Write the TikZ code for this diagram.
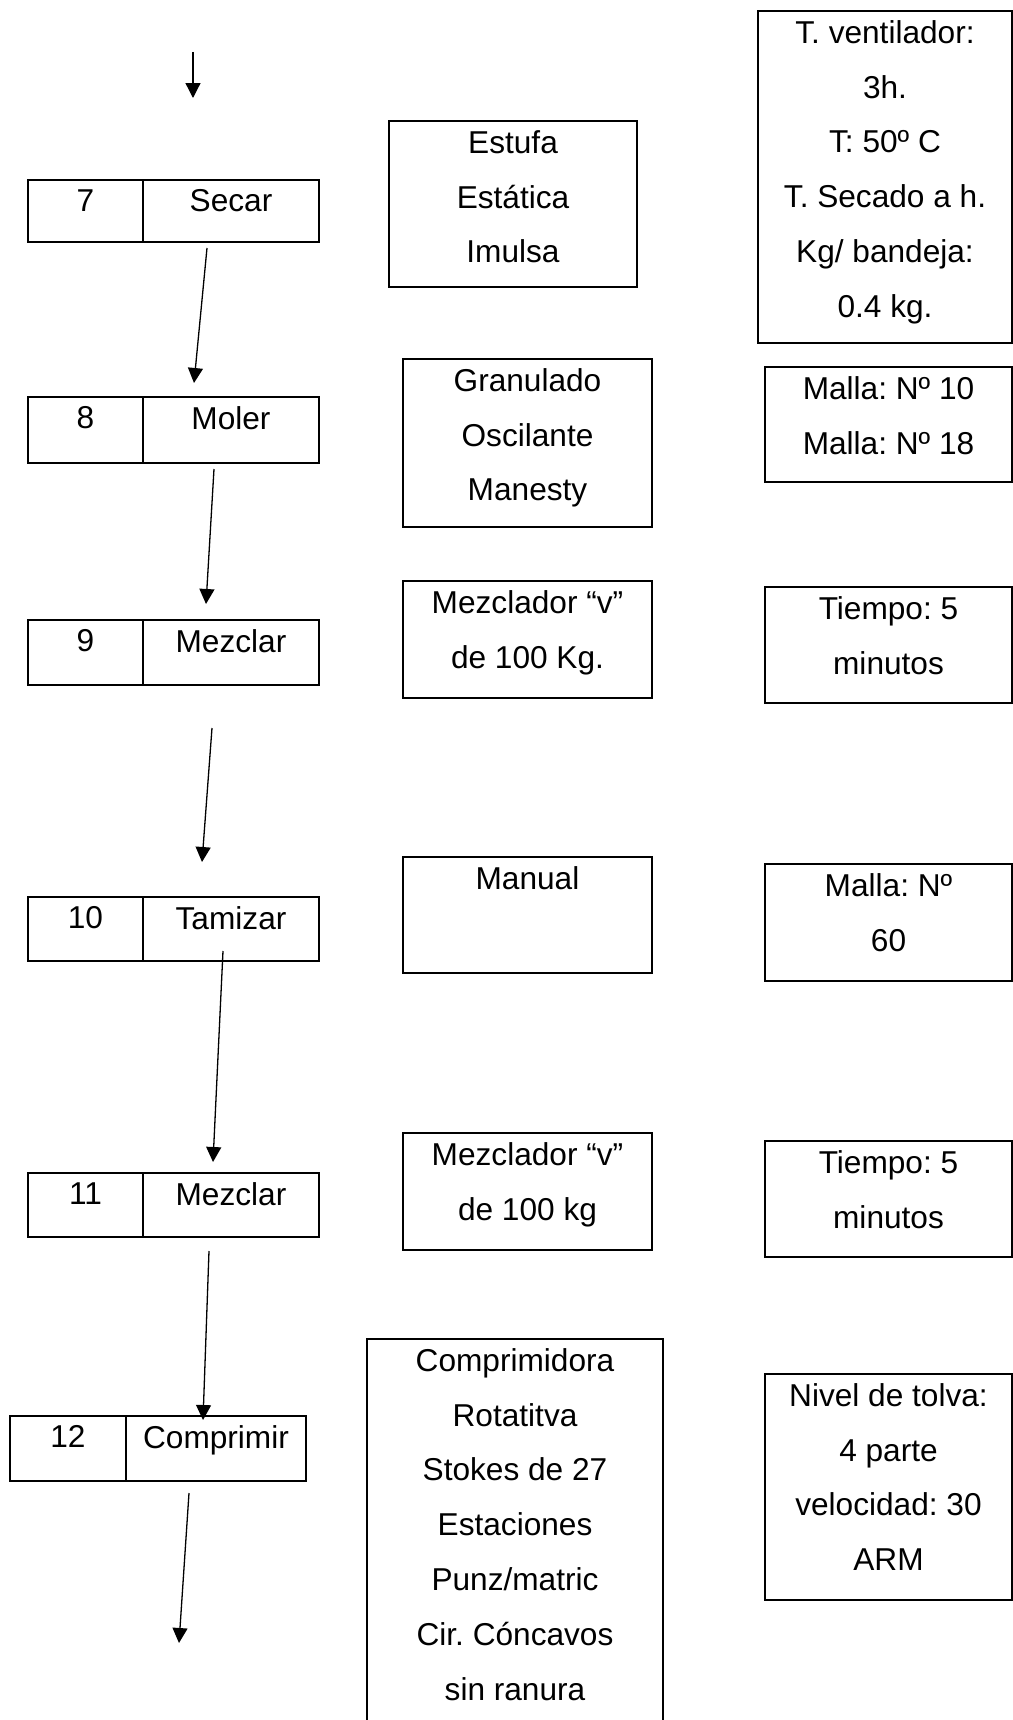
\documentclass[tikz,border=0pt]{standalone}
\usepackage{fontspec}
\setmainfont{Liberation Sans}
\usetikzlibrary{positioning,arrows.meta,fit,calc}
\frenchspacing

\begin{document}
\begin{tikzpicture}[x=0.02cm, y=-0.02cm,
    >={Triangle[length=0.3cm, width=0.3cm]},
    box/.style={draw, line width=0.04cm, inner sep=0pt},
    txt/.style={font=\fontsize{18}{31.2}\selectfont, align=center, inner sep=0pt},
    flow/.style={->, line width=0.026cm}]
  \useasboundingbox (0,0) rectangle (1013,1720);

  % process steps: number cell | operation cell
  \foreach \n/\name/\xa/\xb/\xc/\ya/\yb in {7/Secar/28/143/319/180/242,
      8/Moler/28/143/319/397/463, 9/Mezclar/28/143/319/620/685,
      10/Tamizar/28/143/319/897/961, 11/Mezclar/28/143/319/1173/1237,
      12/Comprimir/10/126/306/1416/1481} {
    \node[box, fit={(\xa,\ya) (\xb,\yb)}] (num\n) {};
    \node[box, fit={(\xb,\ya) (\xc,\yb)}] (act\n) {};
    \node[txt, below=0.2cm of num\n.north] {\n};
    \node[txt, below=0.2cm of act\n.north] {\name};
  }

  % equipment
  \node[box, fit={(389,121) (637,287)}] (estufa) {};
  \node[txt, below=0.2cm of estufa.north] {Estufa\\Estática\\Imulsa};
  \node[box, fit={(403,359) (652,527)}] (granulado) {};
  \node[txt, below=0.2cm of granulado.north] {Granulado\\Oscilante\\Manesty};
  \node[box, fit={(403,581) (652,698)}] (mezcladorA) {};
  \node[txt, below=0.2cm of mezcladorA.north] {Mezclador “v”\\de 100 Kg.};
  \node[box, fit={(403,857) (652,973)}] (manual) {};
  \node[txt, below=0.2cm of manual.north] {Manual};
  \node[box, fit={(403,1133) (652,1250)}] (mezcladorB) {};
  \node[txt, below=0.2cm of mezcladorB.north] {Mezclador “v”\\de 100 kg};
  \node[box, fit={(367,1339) (663,1740)}] (comprimidora) {};
  \node[txt, below=0.2cm of comprimidora.north] {Comprimidora\\Rotatitva\\Stokes de 27\\Estaciones\\Punz/matric\\Cir. Cóncavos\\sin ranura};

  % parameters
  \node[box, fit={(758,11) (1012,343)}] (secado) {};
  \node[txt, below=0.2cm of secado.north] {T. ventilador:\\3h.\\T: 50º C\\T. Secado a h.\\Kg/ bandeja:\\0.4 kg.};
  \node[box, fit={(765,367) (1012,482)}] (malla) {};
  \node[txt, below=0.2cm of malla.north] {Malla: Nº 10\\Malla: Nº 18};
  \node[box, fit={(765,587) (1012,703)}] (tiempoA) {};
  \node[txt, below=0.2cm of tiempoA.north] {Tiempo: 5\\minutos};
  \node[box, fit={(765,864) (1012,981)}] (tamiz) {};
  \node[txt, below=0.2cm of tamiz.north] {Malla: Nº\\60};
  \node[box, fit={(765,1141) (1012,1257)}] (tiempoB) {};
  \node[txt, below=0.2cm of tiempoB.north] {Tiempo: 5\\minutos};
  \node[box, fit={(765,1374) (1012,1600)}] (tolva) {};
  \node[txt, below=0.2cm of tolva.north] {Nivel de tolva:\\4 parte\\velocidad: 30\\ARM};

  % flow arrows
  \coordinate (entrada) at (193,52);
  \coordinate (salida) at (179,1643);
  \draw[flow] (entrada) -- ($(act7.north)+(-38,-81)$);
  \draw[flow] ($(act7.south)+(-24,5)$) -- ($(act8.north)+(-37,-13)$);
  \draw[flow] ($(act8.south)+(-17,5)$) -- ($(act9.north)+(-25,-15)$);
  \draw[flow] ($(act9.south)+(-19,42)$) -- ($(act10.north)+(-29,-34)$);
  \draw[flow] ($(act10.south)+(-8,-11)$) -- ($(act11.north)+(-18,-10)$);
  \draw[flow] ($(act11.south)+(-22,13)$) -- ($(act12.north)+(-13,5)$);
  \draw[flow] ($(act12.south)+(-27,11)$) -- (salida);
\end{tikzpicture}
\end{document}
